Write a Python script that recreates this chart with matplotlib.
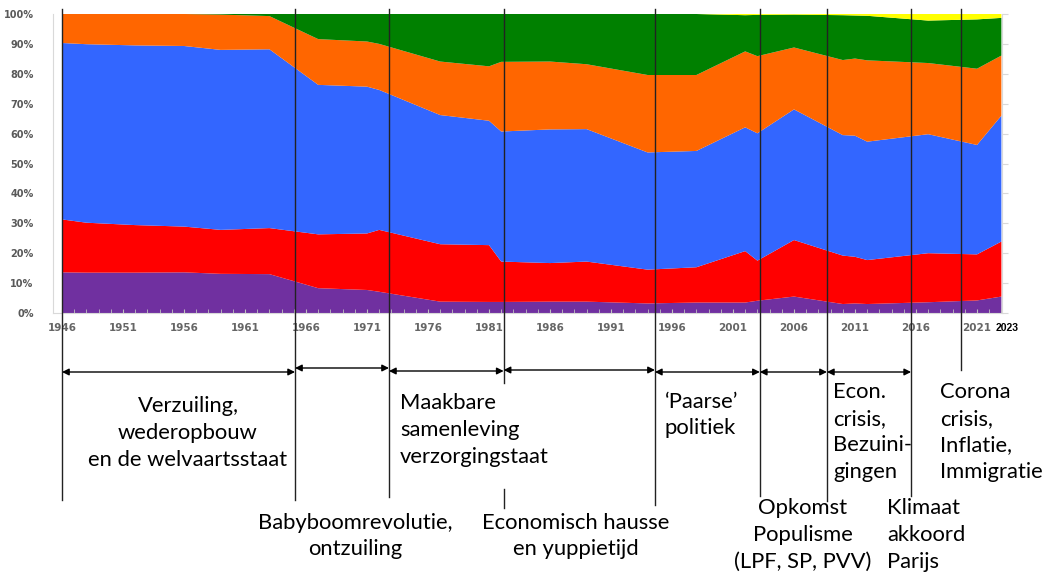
import numpy as np
import matplotlib.pyplot as plt

# election years and vote share per block (%)
years = [1946, 1948, 1952, 1956, 1959, 1963, 1967, 1971, 1972, 1977, 1981, 1982,
         1986, 1989, 1994, 1998, 2002, 2003, 2006, 2010, 2011, 2012, 2017, 2021, 2023]
purple = [13.6, 13.5, 13.5, 13.6, 13.1, 13.0, 8.3, 7.7, 7.1, 3.8, 3.7, 3.7,
          3.8, 3.8, 3.2, 3.5, 3.5, 4.1, 5.5, 3.0, 3.2, 3.0, 3.6, 4.2, 5.5]
red = [17.7, 16.7, 15.9, 15.3, 14.7, 15.4, 18.0, 18.9, 20.7, 19.2, 19.0, 13.5,
       12.9, 13.4, 11.3, 11.8, 17.2, 13.4, 18.9, 16.2, 15.6, 14.7, 16.4, 15.4, 18.4]
blue = [59.0, 59.7, 60.1, 60.4, 60.2, 59.8, 50.0, 49.1, 46.8, 43.2, 41.6, 43.5,
        44.7, 44.3, 39.2, 38.9, 41.4, 42.6, 43.7, 40.3, 40.5, 39.6, 39.8, 36.6, 42.1]
orange = [9.7, 10.1, 10.5, 10.7, 11.8, 11.1, 15.3, 15.1, 15.4, 17.9, 18.2, 23.3,
          22.7, 21.7, 25.9, 25.4, 25.4, 25.8, 20.7, 25.1, 25.8, 27.2, 23.8, 25.5, 20.1]
green = [0.0, 0.0, 0.0, 0.0, 0.2, 0.7, 8.4, 9.2, 10.0, 15.9, 17.5, 16.0,
         15.9, 16.8, 20.4, 20.4, 12.1, 13.8, 11.0, 15.0, 14.4, 14.9, 14.2, 16.5, 12.6]
yellow = [0.0, 0.0, 0.0, 0.0, 0.0, 0.0, 0.0, 0.0, 0.0, 0.0, 0.0, 0.0,
          0.0, 0.0, 0.0, 0.0, 0.4, 0.3, 0.2, 0.4, 0.5, 0.6, 2.2, 1.8, 1.3]

colors = ['#7030A0', '#FF0000', '#3366FF', '#FF6600', '#008000', '#FFFF00']

# era boundaries (years) and where each vertical line stops (pixels from top)
bounds = [1946, 1965.1, 1972.8, 1982.2, 1994.6, 2003.2, 2008.7, 2015.6, 2019.7]
line_ends = [500, 500, 497, 383, 505, 496, 501, 496, 370]
arrow_y = [372, 368, 371, 370, 372, 372, 372]

fig = plt.figure(figsize=(10.42, 5.78), dpi=100)
W, H = 1042, 578
ax = fig.add_axes([53 / W, 1 - 313 / H, 949 / W, 299 / H])

ax.stackplot(years, np.array([purple, red, blue, orange, green, yellow]) / 100,
             colors=colors, linewidth=0)
ax.set_xlim(1945.26, 2023.05)
ax.set_ylim(0, 1)

ax.set_yticks(np.arange(0, 1.01, 0.1))
ax.set_yticklabels([f"{i}%" for i in range(0, 101, 10)])
ax.set_xticks(range(1946, 2022, 5))
ax.set_xticks(range(1946, 2024), minor=True)
ax.tick_params(axis='y', left=False, right=True, labelright=False, length=4,
               color='#d9d9d9', pad=10, labelsize=7, labelcolor='#595959')
ax.tick_params(axis='x', which='both', direction='in', length=3, color='#c0c0c0',
               pad=7, labelsize=7.5, labelcolor='#666666')
for lab in ax.get_xticklabels() + ax.get_yticklabels():
    lab.set_fontweight('bold')
ax.spines['top'].set_visible(False)
for s in ['left', 'right', 'bottom']:
    ax.spines[s].set_color('#d9d9d9')

ax.text(2023.5, -0.05, "2023", ha='center', va='center', fontsize=7.5, fontweight='bold',
        family=['Liberation Sans'], color='black')

# overlay in pixel coordinates for the era annotations
ov = fig.add_axes([0, 0, 1, 1], zorder=5)
ov.set_xlim(0, W)
ov.set_ylim(H, 0)
ov.axis('off')
ov.patch.set_alpha(0)

bx = [ax.transData.transform((b, 0))[0] for b in bounds]
for x, yend in zip(bx, line_ends):
    ov.plot([x, x], [9, yend], color='#222222', lw=1.0)
ov.plot([bx[3], bx[3]], [489, 508], color='#222222', lw=1.0)

for i, y in enumerate(arrow_y):
    ov.annotate('', xy=(bx[i + 1], y), xytext=(bx[i], y),
                arrowprops=dict(arrowstyle='<|-|>', color='black', lw=1.0,
                                mutation_scale=10, shrinkA=0, shrinkB=0))

fam = ['Lato', 'DejaVu Sans']
fs = 15.8
ls = 1.42
ov.text(188, 433, "Verzuiling,\nwederopbouw\nen de welvaartsstaat", ha='center', va='center',
        fontsize=fs, family=fam, linespacing=ls)
ov.text(355, 536, "Babyboomrevolutie,\nontzuiling", ha='center', va='center',
        fontsize=fs, family=fam, linespacing=ls)
ov.text(400, 430, "Maakbare\nsamenleving\nverzorgingstaat", ha='left', va='center',
        fontsize=fs, family=fam, linespacing=ls)
ov.text(576, 536, "Economisch hausse\nen yuppietijd", ha='center', va='center',
        fontsize=fs, family=fam, linespacing=ls)
ov.text(665, 415, "\u2018Paarse\u2019\npolitiek", ha='left', va='center',
        fontsize=fs, family=fam, linespacing=ls)
ov.text(803, 535, "Opkomst\nPopulisme\n(LPF, SP, PVV)", ha='center', va='center',
        fontsize=fs, family=fam, linespacing=ls)
ov.text(833, 432, "Econ.\ncrisis,\nBezuini-\ngingen", ha='left', va='center',
        fontsize=fs, family=fam, linespacing=ls)
ov.text(887, 535, "Klimaat\nakkoord\nParijs", ha='left', va='center',
        fontsize=fs, family=fam, linespacing=ls)
ov.text(940, 432, "Corona\ncrisis,\nInflatie,\nImmigratie", ha='left', va='center',
        fontsize=fs, family=fam, linespacing=ls)

plt.savefig("out.png", dpi=100)
